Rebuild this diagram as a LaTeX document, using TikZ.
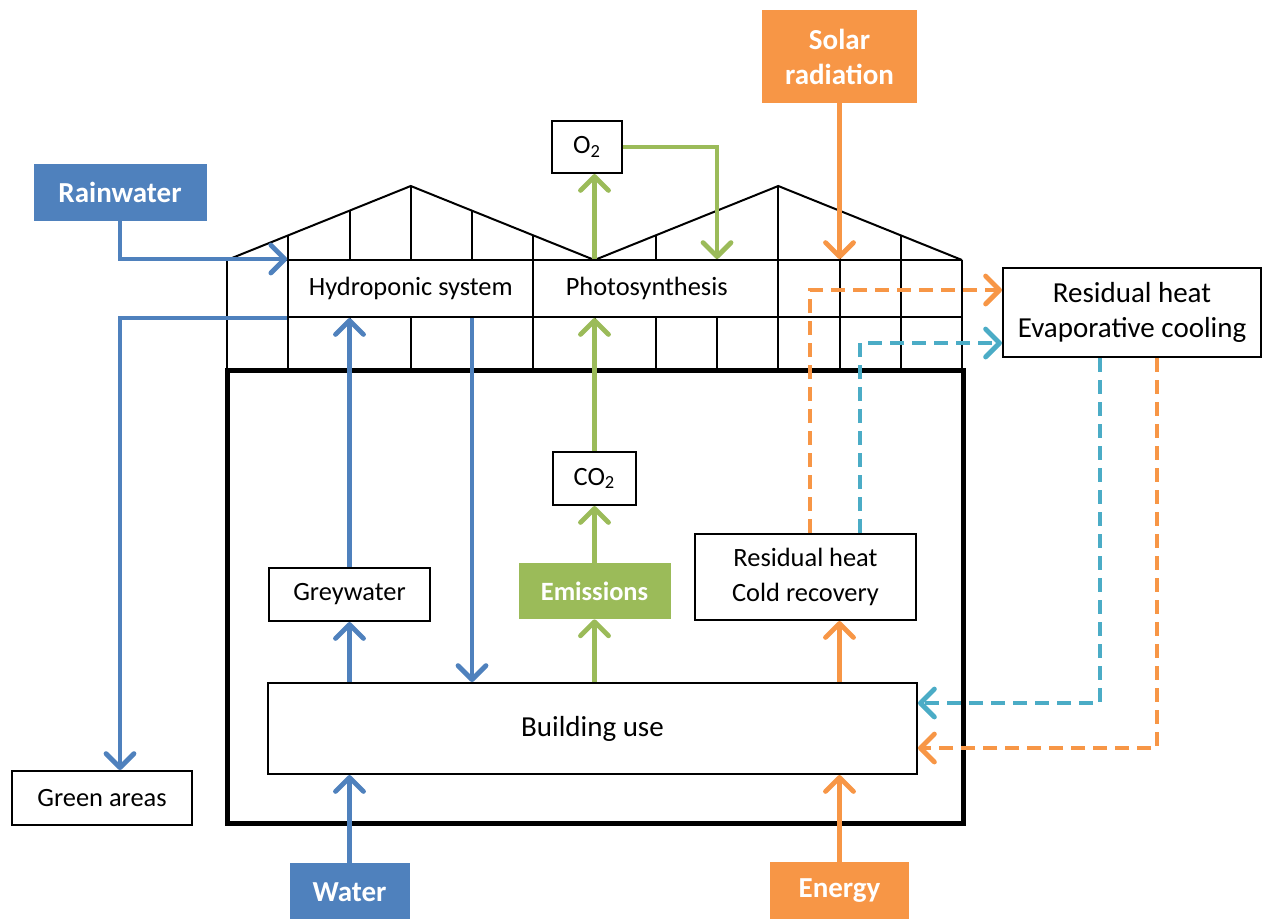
\documentclass[tikz,border=0pt]{standalone}
\usepackage{fontspec}
\setmainfont{Carlito}
\usetikzlibrary{arrows.meta}
\definecolor{rainblue}{HTML}{4F81BD}
\definecolor{sunorange}{HTML}{F79646}
\definecolor{leafgreen}{HTML}{9BBB59}
\definecolor{coolcyan}{HTML}{4BACC6}

\begin{document}
\begin{tikzpicture}[x=0.5pt, y=-0.5pt,
  box/.style={draw, line width=1pt, fill=white, inner sep=0pt, align=center, font=\fontsize{13.2}{17.5}\selectfont},
  bigbox/.style={box, font=\fontsize{14.5}{17.5}\selectfont},
  source/.style={fill=#1, text=white, inner sep=0pt, align=center, font=\fontsize{14.5}{17.5}\selectfont\bfseries},
  flow/.style={line width=2.4pt, draw=#1, -{Straight Barb[length=7pt, width=14pt, round]}},
  dashflow/.style={flow=#1, dash pattern=on 7pt off 4pt}
]
\useasboundingbox (0,0) rectangle (1264,918);

% greenhouse frame
\draw[line width=1pt] (227,260) -- (410.75,186) -- (594.5,260) -- (778.25,186) -- (962,260);
\draw[line width=1pt] (227,260) -- (962,260) (227,317) -- (962,317);
\foreach \i in {0,...,12}{
  \pgfmathsetmacro\gx{227+61.25*\i}
  \pgfmathsetmacro\gy{260-74*(1-abs(mod(\i,6)-3)/3)}
  \draw[line width=1pt] (\gx,\gy) -- (\gx,370);
  \coordinate (c\i) at (\gx,370);
}
\draw[line width=2.5pt] (227,370) rectangle (963,823);

\node[box, minimum width=122.5pt, minimum height=28.5pt] (hydro) at (410.75,288.5) {Hydroponic system};
\node[box, minimum width=122.5pt, minimum height=28.5pt, text width=118pt, align=left] (photo) at (655.75,288.5) {\hspace{14pt}Photosynthesis};
\node[box, minimum width=35pt, minimum height=26pt] (o2) at (587,147) {O\textsubscript{2}};
\node[box, minimum width=41.5pt, minimum height=26.5pt] (co2) at (594.5,478.5) {CO\textsubscript{2}};
\node[box, minimum width=80.5pt, minimum height=26.5pt] (grey) at (349.5,594.5) {Greywater};
\node[source=leafgreen, minimum width=76pt, minimum height=28pt, font=\fontsize{13.2}{17.5}\selectfont\bfseries] (emis) at (594.5,591) {Emissions};
\node[box, minimum width=110.5pt, minimum height=43pt] (coldrec) at (805.5,577) {Residual heat\\Cold recovery};
\node[bigbox, minimum width=324.5pt, minimum height=45.5pt] (build) at (592.5,728.5) {Building use};
\node[box, minimum width=90pt, minimum height=27pt] (green) at (102,798) {Green areas};
\node[bigbox, minimum width=129pt, minimum height=44.5pt] (evap) at (1132,312.5) {Residual heat\\Evaporative cooling};
\node[source=rainblue, minimum width=86.5pt, minimum height=28.5pt] (rain) at (120,192.5) {Rainwater};
\node[source=sunorange, minimum width=77.5pt, minimum height=46.5pt] (solar) at (839.5,56.5) {Solar\\radiation};
\node[source=rainblue, minimum width=60pt, minimum height=29pt] (water) at (349.5,892) {Water};
\node[source=sunorange, minimum width=69.5pt, minimum height=29pt] (energy) at (839.5,891) {Energy};

% water
\draw[flow=rainblue] (rain.south) |- (hydro.north west);
\draw[flow=rainblue] (hydro.south west) -| (green.north -| rain.south);
\draw[flow=rainblue] (grey.north) -- (hydro.south -| grey.north);
\draw[flow=rainblue] (hydro.south -| c4) -- (build.north -| c4);
\draw[flow=rainblue] (build.north -| grey.south) -- (grey.south);
\draw[flow=rainblue] (water.north) -- (build.south -| water.north);
% gases
\draw[flow=leafgreen] (build.north -| emis.south) -- (emis.south);
\draw[flow=leafgreen] (emis.north) -- (co2.south);
\draw[flow=leafgreen] (co2.north) -- (photo.south -| co2.north);
\draw[flow=leafgreen] (photo.north -| c6) -- (o2.south -| c6);
\draw[flow=leafgreen] (o2.east) -| (photo.north -| c8);
% energy
\draw[flow=sunorange] (solar.south) -- (photo.north -| solar.south);
\draw[flow=sunorange] (energy.north) -- (build.south -| energy.north);
\draw[flow=sunorange] (build.north -| c10) -- (coldrec.south -| c10);
\draw[dashflow=sunorange] ([xshift=2.25pt]coldrec.north) |- ([yshift=11.25pt]evap.west);
\draw[dashflow=coolcyan] ([xshift=27.25pt]coldrec.north) |- ([yshift=-15.25pt]evap.west);
\draw[dashflow=coolcyan] ([xshift=-16pt]evap.south) |- ([yshift=12.75pt]build.east);
\draw[dashflow=sunorange] ([xshift=12.5pt]evap.south) |- ([yshift=-9.75pt]build.east);
\end{tikzpicture}
\end{document}
